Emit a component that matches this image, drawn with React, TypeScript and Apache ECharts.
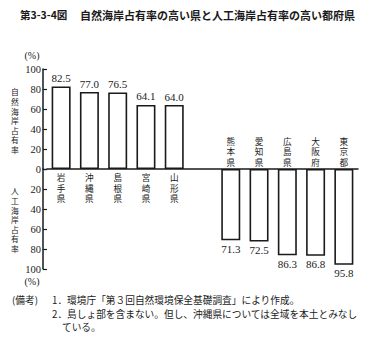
import React, { useEffect, useRef } from 'react';
import * as echarts from 'echarts';

const naturalPrefs = ['岩手県', '沖縄県', '島根県', '宮崎県', '山形県'];
const naturalRates = [82.5, 77.0, 76.5, 64.1, 64.0];
const artificialPrefs = ['熊本県', '愛知県', '広島県', '大阪府', '東京都'];
const artificialRates = [71.3, 72.5, 86.3, 86.8, 95.8];

const titleNo = '第3-3-4図';
const titleText = '自然海岸占有率の高い県と人工海岸占有率の高い都府県';
const yTitleTop = '自然海岸占有率';
const yTitleBottom = '人工海岸占有率';
const unitText = '(%)';
const noteHead = '(備考)';
const noteLines = [
  '1．環境庁「第３回自然環境保全基礎調査」により作成。',
  '2．島しょ部を含まない。但し、沖縄県については全域を本土とみなし',
  'ている。',
];

const CJK = '"Noto Sans CJK JP", "Noto Sans", sans-serif';
const SERIF = '"Liberation Serif", "DejaVu Serif", serif';
const INK = '#1a1a1a';

const vertical = (s: string) => s.split('').join('\n');

export default function App() {
  const ref = useRef<HTMLDivElement>(null);
  useEffect(() => {
    if (!ref.current) return;
    const chart = echarts.init(ref.current, undefined, { renderer: 'svg' });
    const categories = [...naturalPrefs, '', ...artificialPrefs];
    const nNat = naturalPrefs.length;
    const natData = [...naturalRates, ...artificialPrefs.map(() => '-'), '-'];
    const artData = [...naturalPrefs.map(() => '-'), '-', ...artificialRates.map((v) => -v)];

    const catLabel = {
      interval: 0,
      margin: 3,
      fontFamily: CJK,
      fontSize: 8.6,
      lineHeight: 10.5,
      color: INK,
    };
    const yLabel = {
      margin: 2,
      fontFamily: SERIF,
      fontSize: 10.5,
      color: INK,
    };
    const barStyle = { color: '#fff', borderColor: INK, borderWidth: 1.6 };
    const barLabel = {
      show: true,
      distance: 3,
      fontFamily: SERIF,
      fontSize: 11,
      color: INK,
      formatter: (p: any) => Math.abs(p.value).toFixed(1),
    };
    const yTitleStyle = {
      fontFamily: CJK,
      fontSize: 7.8,
      lineHeight: 9.6,
      fill: INK,
      align: 'center',
      verticalAlign: 'top',
    };
    const noteStyle = { fontFamily: CJK, fontSize: 9.7, fill: INK };

    chart.setOption({
      animation: false,
      backgroundColor: '#fff',
      grid: [
        { left: 47, width: 311, top: 69, height: 100, containLabel: false },
        { left: 47, width: 311, top: 169, height: 100, containLabel: false },
      ],
      xAxis: [
        {
          type: 'category',
          gridIndex: 0,
          data: categories,
          position: 'bottom',
          axisLine: { show: true, onZero: false, lineStyle: { color: INK, width: 1.5 } },
          axisTick: { show: false },
          axisLabel: {
            ...catLabel,
            formatter: (v: string, i: number) => (i < nNat ? vertical(v) : ''),
          },
        },
        {
          type: 'category',
          gridIndex: 1,
          data: categories,
          position: 'top',
          axisLine: { show: false, onZero: false },
          axisTick: { show: false },
          axisLabel: {
            ...catLabel,
            margin: 2,
            formatter: (v: string, i: number) => (i > nNat ? vertical(v) : ''),
          },
        },
      ],
      yAxis: [
        {
          type: 'value',
          gridIndex: 0,
          min: 0,
          max: 100,
          interval: 20,
          offset: 4,
          axisLine: { show: true, lineStyle: { color: INK, width: 1.5 } },
          axisTick: { show: true, inside: true, length: 4, lineStyle: { color: INK, width: 1.2 } },
          splitLine: { show: false },
          axisLabel: { ...yLabel, formatter: (v: number) => String(Math.abs(v)) },
        },
        {
          type: 'value',
          gridIndex: 1,
          min: -100,
          max: 0,
          interval: 20,
          offset: 4,
          axisLine: { show: true, lineStyle: { color: INK, width: 1.5 } },
          axisTick: { show: true, inside: true, length: 4, lineStyle: { color: INK, width: 1.2 } },
          splitLine: { show: false },
          axisLabel: { ...yLabel, formatter: (v: number) => (v === 0 ? '' : String(Math.abs(v))) },
        },
      ],
      series: [
        {
          type: 'bar',
          xAxisIndex: 0,
          yAxisIndex: 0,
          barWidth: 19,
          data: natData,
          itemStyle: barStyle,
          label: { ...barLabel, position: 'top' },
        },
        {
          type: 'bar',
          xAxisIndex: 1,
          yAxisIndex: 1,
          barWidth: 19,
          data: artData,
          itemStyle: barStyle,
          label: { ...barLabel, position: 'bottom' },
        },
      ],
      graphic: [
        {
          type: 'text',
          left: 20,
          top: 9,
          style: { text: titleNo, fontFamily: CJK, fontSize: 10.5, fontWeight: 'bold', fill: INK },
        },
        {
          type: 'text',
          left: 80,
          top: 9,
          style: { text: titleText, fontFamily: CJK, fontSize: 11, fontWeight: 'bold', fill: INK },
        },
        {
          type: 'text',
          x: 32,
          y: 50,
          style: { text: unitText, fontFamily: SERIF, fontSize: 10, fill: INK, align: 'center', verticalAlign: 'top' },
        },
        {
          type: 'text',
          x: 32,
          y: 276,
          style: { text: unitText, fontFamily: SERIF, fontSize: 10, fill: INK, align: 'center', verticalAlign: 'top' },
        },
        {
          type: 'text',
          x: 15,
          y: 87,
          style: { ...yTitleStyle, text: vertical(yTitleTop) },
        },
        {
          type: 'text',
          x: 15,
          y: 186,
          style: { ...yTitleStyle, text: vertical(yTitleBottom) },
        },
        { type: 'text', left: 12, top: 295, style: { ...noteStyle, text: noteHead } },
        { type: 'text', left: 52, top: 295, style: { ...noteStyle, text: noteLines[0] } },
        { type: 'text', left: 52, top: 309, style: { ...noteStyle, text: noteLines[1] } },
        { type: 'text', left: 62, top: 322, style: { ...noteStyle, text: noteLines[2] } },
      ],
    });
    return () => chart.dispose();
  }, []);

  return (
    <div
      ref={ref}
      style={{ position: 'fixed', left: 0, top: 0, width: 370, height: 356, background: '#fff' }}
    />
  );
}
